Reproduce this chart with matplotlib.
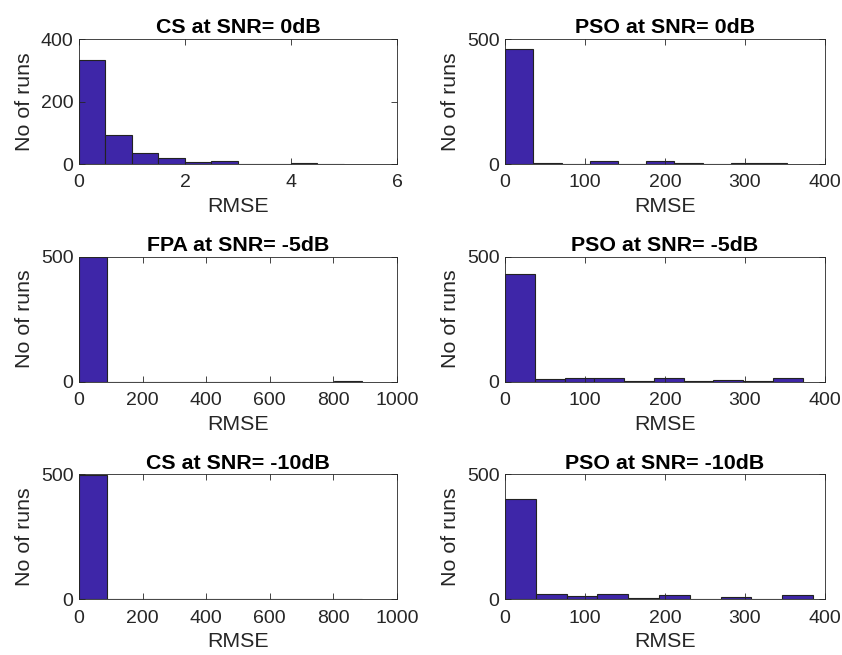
import matplotlib.pyplot as plt
import numpy as np

plt.rcParams['font.family'] = ['Liberation Sans', 'DejaVu Sans']

titles = ["CS at SNR= 0dB", "PSO at SNR= 0dB",
          "FPA at SNR= -5dB", "PSO at SNR= -5dB",
          "CS at SNR= -10dB", "PSO at SNR= -10dB"]

# bin widths (RMSE) and counts, 10 bins each starting at 0
bin_width = [0.5, 35.3, 89, 37.2, 89, 38.5]
counts = [
    [333, 94, 34, 19, 8, 9, 1, 1, 4, 1],
    [462, 3, 1, 14, 1, 13, 4, 1, 3, 6],
    [499, 0, 0, 0, 0, 0, 0, 0, 0, 1],
    [431, 9, 16, 16, 3, 14, 1, 6, 1, 15],
    [498, 0, 0, 0, 0, 0, 0, 0, 0, 2],
    [401, 23, 15, 20, 4, 17, 1, 8, 3, 16],
]
xlims = [6, 400, 1000, 400, 1000, 400]
xticks = [[0, 2, 4, 6], [0, 100, 200, 300, 400],
          [0, 200, 400, 600, 800, 1000], [0, 100, 200, 300, 400],
          [0, 200, 400, 600, 800, 1000], [0, 100, 200, 300, 400]]
ylims = [400, 500, 500, 500, 500, 500]
yticks = [[0, 200, 400], [0, 500], [0, 500], [0, 500], [0, 500], [0, 500]]

fig = plt.figure(figsize=(8.42, 6.55), dpi=100)
lefts = [0.0938, 0.5998]
widths = [0.3777, 0.380]
bottoms = [0.7496, 0.4173, 0.0850]
h = 0.1908

txt = '#262626'
for i in range(6):
    r, c = divmod(i, 2)
    ax = fig.add_axes([lefts[c], bottoms[r], widths[c], h])
    n = len(counts[i])
    edges = np.arange(n) * bin_width[i]
    ax.bar(edges, counts[i], width=bin_width[i], align='edge',
           color='#3e26a8', edgecolor='#222222', linewidth=0.8)
    ax.set_xlim(0, xlims[i])
    ax.set_ylim(0, ylims[i])
    ax.set_xticks(xticks[i])
    ax.set_yticks(yticks[i])
    ax.tick_params(direction='in', top=True, right=True, labelsize=14,
                   colors=txt, length=4, width=0.6)
    ax.tick_params(axis='x', pad=7.5)
    ax.tick_params(axis='y', pad=4)
    for s in ax.spines.values():
        s.set_color(txt)
        s.set_linewidth(0.6)
    ax.set_title(titles[i], fontsize=15.4, fontweight='bold', pad=4)
    ax.set_xlabel("RMSE", fontsize=15.4, color=txt, labelpad=4)
    ax.set_ylabel("No of runs", fontsize=15.4, color=txt, labelpad=5)

fig.savefig("out.png", dpi=100)
